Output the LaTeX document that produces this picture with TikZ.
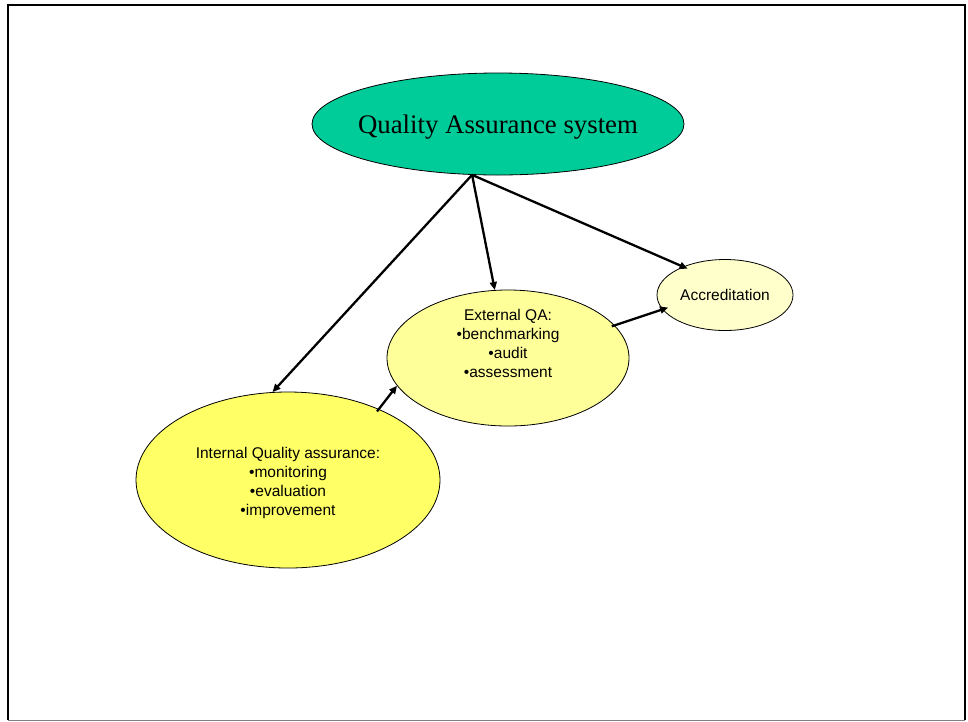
\documentclass[tikz,border=0pt]{standalone}
\usepackage{fontspec}
\setmainfont{Liberation Serif}
\setsansfont{Liberation Sans}
\usetikzlibrary{shapes.geometric,arrows.meta}
\definecolor{qagreen}{HTML}{00CC99}
\definecolor{yel1}{HTML}{FFFF66}
\definecolor{yel2}{HTML}{FFFF99}
\definecolor{yel3}{HTML}{FFFFCC}
\tikzset{
  bubble/.style={ellipse, draw=black, line width=0.8pt, inner sep=0pt},
  bodytext/.style={font=\sffamily\fontsize{15.5}{19}\selectfont, align=center, inner sep=0pt},
  link/.style={line width=2.3pt, -{Triangle[length=8pt,width=7pt]}}
}
\begin{document}
\begin{tikzpicture}[x=1pt,y=-1pt]
\useasboundingbox (0,0) rectangle (968,721);
% frame
\draw[line width=2.2pt] (8,720) -- (8,5) -- (965,5) -- (965,720);
\draw[gray, line width=1pt] (8,720) -- (965,720);
% nodes
\node[bubble, fill=qagreen, minimum width=372pt, minimum height=102pt] (qa) at (498,124) {};
\node[font=\fontsize{26.8}{30}\selectfont, inner sep=0pt] (qat) at (498,127) {Quality Assurance system};
\node[bubble, fill=yel1, minimum width=304pt, minimum height=176pt] (iqa) at (288,480) {};
\node[bodytext] (iqat) at (288,483) {Internal Quality assurance:\\•monitoring\\•evaluation\\•improvement};
\node[bubble, fill=yel2, minimum width=242pt, minimum height=136pt] (eqa) at (508,358) {};
\node[bodytext] (eqat) at (508,343) {External QA:\\•benchmarking\\•audit\\•assessment};
\node[bubble, fill=yel3, minimum width=136pt, minimum height=71pt] (acc) at (725,295) {};
\node[bodytext] (acct) at (725,295) {Accreditation};
% connectors
\draw[link] (qa.243.9) -- (iqa.100.3);
\draw[link] (qa.243.9) -- (eqa.101.3);
\draw[link, shorten >=-5pt] (qa.243.9) -- (acc.146.9);
\draw[link, shorten <=-3pt] (iqa.38.7) -- (eqa.194.4);
\draw[link, shorten <=-3pt, shorten >=-6pt] (eqa.17.8) -- (acc.193);
\end{tikzpicture}
\end{document}
